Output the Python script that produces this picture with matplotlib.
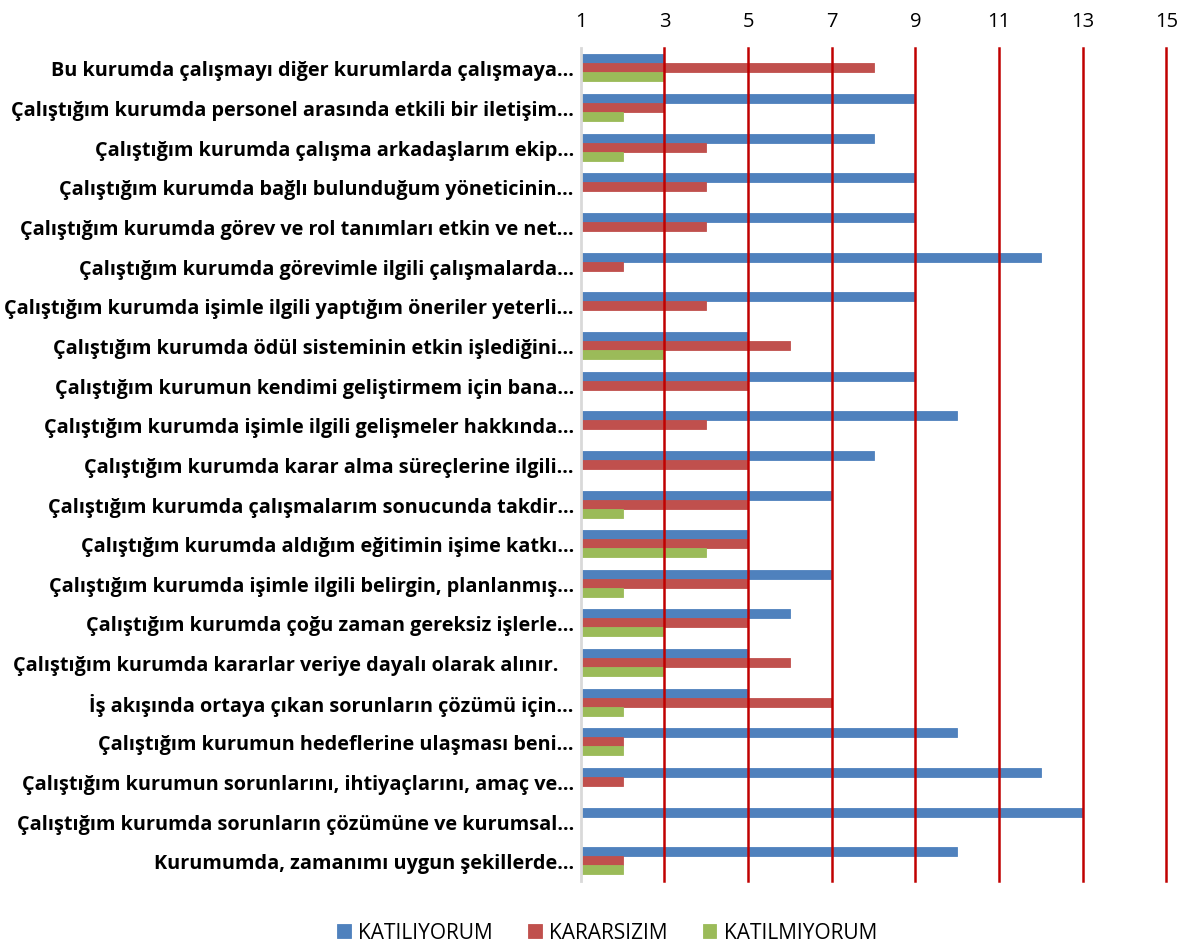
import numpy as np
import matplotlib.pyplot as plt

plt.rcParams['font.family'] = ['Open Sans', 'DejaVu Sans']

labels = [
    "Bu kurumda çalışmayı diğer kurumlarda çalışmaya...",
    "Çalıştığım kurumda personel arasında etkili bir iletişim...",
    "Çalıştığım kurumda çalışma arkadaşlarım ekip...",
    "Çalıştığım kurumda bağlı bulunduğum yöneticinin...",
    "Çalıştığım kurumda görev ve rol tanımları etkin ve net...",
    "Çalıştığım kurumda görevimle ilgili çalışmalarda...",
    "Çalıştığım kurumda işimle ilgili yaptığım öneriler yeterli...",
    "Çalıştığım kurumda ödül sisteminin etkin işlediğini...",
    "Çalıştığım kurumun kendimi geliştirmem için bana...",
    "Çalıştığım kurumda işimle ilgili gelişmeler hakkında...",
    "Çalıştığım kurumda karar alma süreçlerine ilgili...",
    "Çalıştığım kurumda çalışmalarım sonucunda takdir...",
    "Çalıştığım kurumda aldığım eğitimin işime katkı...",
    "Çalıştığım kurumda işimle ilgili belirgin, planlanmış...",
    "Çalıştığım kurumda çoğu zaman gereksiz işlerle...",
    "Çalıştığım kurumda kararlar veriye dayalı olarak alınır.   ",
    "İş akışında ortaya çıkan sorunların çözümü için...",
    "Çalıştığım kurumun hedeflerine ulaşması beni...",
    "Çalıştığım kurumun sorunlarını, ihtiyaçlarını, amaç ve...",
    "Çalıştığım kurumda sorunların çözümüne ve kurumsal...",
    "Kurumumda, zamanımı uygun şekillerde...",
]
katiliyorum = [3, 9, 8, 9, 9, 12, 9, 5, 9, 10, 8, 7, 5, 7, 6, 5, 5, 10, 12, 13, 10]
kararsizim = [8, 3, 4, 4, 4, 2, 4, 6, 5, 4, 5, 5, 5, 5, 5, 6, 7, 2, 2, 0, 2]
katilmiyorum = [3, 2, 2, 0, 0, 0, 0, 3, 0, 0, 0, 2, 4, 2, 3, 3, 2, 2, 0, 0, 2]

series = [("KATILIYORUM", katiliyorum, "#4F81BD"),
          ("KARARSIZIM", kararsizim, "#C0504D"),
          ("KATILMIYORUM", katilmiyorum, "#9BBB59")]

fig = plt.figure(figsize=(11.95, 9.45), dpi=100)
ax = fig.add_axes([0.486, 0.067, 0.49, 0.881])

y = np.arange(len(labels))
h = 0.227
for k, (name, vals, col) in enumerate(series):
    ax.barh(y + (k - 1) * h, vals, height=h, color=col, edgecolor=col,
            linewidth=0.6, label=name, zorder=2)

ax.set_xlim(1, 15)
ax.set_ylim(len(labels) - 0.5, -0.5)
ax.set_xticks(range(1, 16, 2))
ax.xaxis.tick_top()
ax.tick_params(axis='x', length=0, labelsize=14.5, pad=12)
ax.tick_params(axis='y', length=0, pad=5)
ax.set_yticks(y)
ax.set_yticklabels(labels, fontsize=14.3, fontweight='bold')
for xv in range(3, 16, 2):
    ax.axvline(xv, color="#C00000", linewidth=1.8, zorder=3, clip_on=False)
for s in ['top', 'right', 'bottom']:
    ax.spines[s].set_visible(False)
ax.spines['left'].set_color('#D9D9D9')
ax.spines['left'].set_linewidth(2)
ax.spines['left'].set_zorder(4)

fig.legend(loc='center', bbox_to_anchor=(0.508, 0.012), ncol=3, frameon=False,
           fontsize=15, handlelength=0.65, handleheight=0.65, columnspacing=1.7,
           handletextpad=0.35)

fig.savefig("out.png", dpi=100)
